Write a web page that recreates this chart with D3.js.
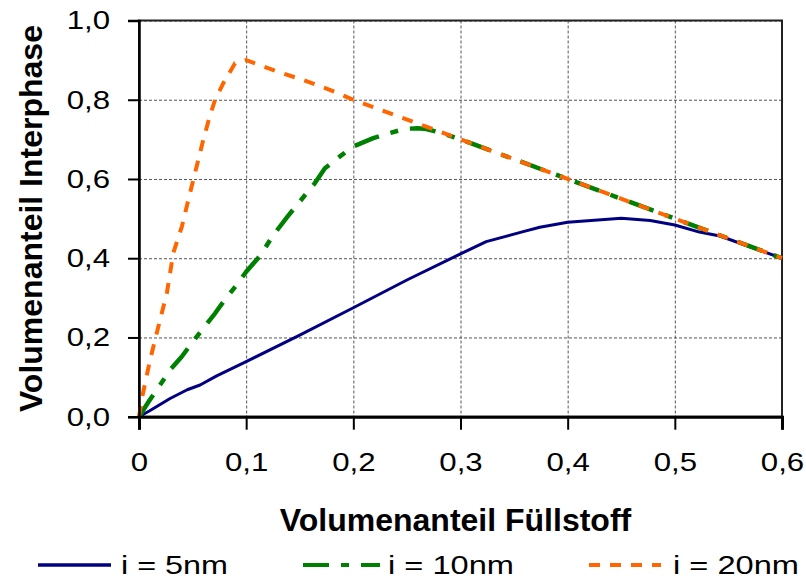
<!DOCTYPE html>
<html><head><meta charset="utf-8">
<script src="https://cdn.jsdelivr.net/npm/d3@7"></script>
<style>body{margin:0;background:#fff}svg{display:block}text{font-family:"Liberation Sans",Arial,sans-serif}</style>
</head><body>
<svg id="chart" width="806" height="580"></svg>
<script>
// ---- data ----
const xTickValues = [0, 0.1, 0.2, 0.3, 0.4, 0.5, 0.6];
const xTickLabels = ["0", "0,1", "0,2", "0,3", "0,4", "0,5", "0,6"];
const yTickValues = [0, 0.2, 0.4, 0.6, 0.8, 1.0];
const yTickLabels = ["0,0", "0,2", "0,4", "0,6", "0,8", "1,0"];
const seriesNames = ["i = 5nm", "i = 10nm", "i = 20nm"];
const xTitle = "Volumenanteil Füllstoff";
const yTitle = "Volumenanteil Interphase";

const series5nm = [[0,0],[0.01,0.015],[0.029,0.046],[0.045,0.068],[0.057,0.08],[0.0725,0.103],[0.1,0.139],
  [0.15,0.206],[0.2,0.275],[0.25,0.345],[0.3,0.411],[0.324,0.442],[0.3585,0.467],[0.374,0.478],[0.4,0.491],
  [0.45,0.501],[0.477,0.495],[0.5,0.484],[0.523,0.466],[0.542,0.456],[0.6,0.4]];
const series10nm = [[0,0],[0.010,0.042],[0.0196,0.08],[0.029,0.118],[0.04,0.152],[0.049,0.185],[0.06,0.223],
  [0.071,0.261],[0.080,0.295],[0.091,0.332],[0.1,0.366],[0.113,0.406],[0.125,0.457],[0.138,0.503],[0.150,0.543],
  [0.164,0.589],[0.1735,0.627],[0.1875,0.657],[0.2,0.682],[0.2186,0.703],[0.234,0.716],[0.248,0.7265],
  [0.26,0.728],[0.268,0.726],[0.281,0.717],[0.3,0.7],[0.4,0.6],[0.5,0.5],[0.6,0.4]];
const series20nm = [[0,0],[0.003,0.05],[0.0103,0.143],[0.0196,0.244],[0.026,0.312],[0.032,0.413],[0.040,0.48],
  [0.046,0.547],[0.0507,0.598],[0.0553,0.648],[0.060,0.699],[0.066,0.758],[0.071,0.80],[0.0787,0.842],
  [0.0896,0.892],[0.1,0.9],[0.127,0.873],[0.153,0.85],[0.178,0.825],[0.2,0.8],[0.3,0.7],[0.4,0.6],[0.5,0.5],[0.6,0.4]];

const seriesStyles = [
  {color:"#000080", width:3, dash:null},
  {color:"#008000", width:4.5, dash:"26,12,8,12"},
  {color:"#FF6600", width:4, dash:"11,10"}
];

// ---- layout ----
const svg = d3.select("#chart");
svg.append("rect").attr("width",806).attr("height",580).attr("fill","#fff");
const X0 = 139, X1 = 782, Y0 = 416.7, Y1 = 20.5;
const x = d3.scaleLinear().domain([0, 0.6]).range([X0, X1]);
const y = d3.scaleLinear().domain([0, 1]).range([Y0, Y1]);

// gridlines
const gx = svg.append("g").attr("transform",`translate(0,${Y1})`)
  .call(d3.axisBottom(x).tickValues(xTickValues).tickSize(Y0-Y1).tickFormat(""));
gx.select(".domain").remove();
gx.selectAll("line").attr("stroke","#555").attr("stroke-width",1).attr("stroke-dasharray","3,2");
const gy = svg.append("g").attr("transform",`translate(${X0},0)`)
  .call(d3.axisRight(y).tickValues(yTickValues).tickSize(X1-X0).tickFormat(""));
gy.select(".domain").remove();
gy.selectAll("line").attr("stroke","#555").attr("stroke-width",1).attr("stroke-dasharray","3,2");

// plot border
svg.append("rect").attr("x",X0).attr("y",Y1).attr("width",X1-X0).attr("height",Y0-Y1)
  .attr("fill","none").attr("stroke","#222").attr("stroke-width",2);

// series
const line = d3.line().x(d=>x(d[0])).y(d=>y(d[1]));
[series5nm, series10nm, series20nm].forEach((s,i)=>{
  const st = seriesStyles[i];
  svg.append("path").datum(s).attr("d",line).attr("fill","none")
    .attr("stroke",st.color).attr("stroke-width",st.width)
    .attr("stroke-dasharray",st.dash).attr("stroke-linejoin","round");
});

function stretch(sel, factor){
  sel.each(function(){
    const l = this.getComputedTextLength();
    d3.select(this).attr("textLength", l*factor).attr("lengthAdjust","spacingAndGlyphs");
  });
}

// axes
const ax = svg.append("g").attr("transform",`translate(0,${Y0})`)
  .call(d3.axisBottom(x).tickValues(xTickValues).tickSize(13).tickPadding(23)
    .tickFormat((d,i)=>xTickLabels[i]));
ax.select(".domain").attr("stroke","#000").attr("stroke-width",3);
ax.selectAll("line").attr("stroke","#000").attr("stroke-width",2);
ax.selectAll("text").attr("font-size",26).attr("fill","#000").attr("font-family","Liberation Sans, Arial, sans-serif");
stretch(ax.selectAll("text"), 1.2);

const ay = svg.append("g").attr("transform",`translate(${X0},0)`)
  .call(d3.axisLeft(y).tickValues(yTickValues).tickSize(11).tickPadding(18)
    .tickFormat((d,i)=>yTickLabels[i]));
ay.select(".domain").attr("stroke","#000").attr("stroke-width",2.5);
ay.selectAll("line").attr("stroke","#000").attr("stroke-width",2);
ay.selectAll("text").attr("font-size",26).attr("fill","#000").attr("font-family","Liberation Sans, Arial, sans-serif");
stretch(ay.selectAll("text"), 1.2);

// titles
svg.append("text").attr("x",(X0+X1)/2 - 5).attr("y",531).attr("text-anchor","middle")
  .attr("font-size",32).attr("font-weight","bold").text(xTitle);
svg.append("text").attr("transform",`translate(42,${(Y0+Y1)/2}) rotate(-90)`).attr("text-anchor","middle")
  .attr("font-size",32).attr("font-weight","bold").text(yTitle);

// legend
const legendItems = [
  {x1:38, x2:111, tx:121, w:107},
  {x1:303, x2:380, tx:388, w:126},
  {x1:589, x2:661, tx:673, w:126}
];
const legY = 565;
legendItems.forEach((it,i)=>{
  const st = seriesStyles[i];
  svg.append("line").attr("x1",it.x1).attr("x2",it.x2).attr("y1",legY).attr("y2",legY)
    .attr("stroke",st.color).attr("stroke-width",i===0?3.5:4).attr("stroke-dasharray",st.dash);
  svg.append("text").attr("x",it.tx).attr("y",legY+9).attr("font-size",26)
    .attr("textLength",it.w).attr("lengthAdjust","spacingAndGlyphs").text(seriesNames[i]);
});
</script>
</body></html>
